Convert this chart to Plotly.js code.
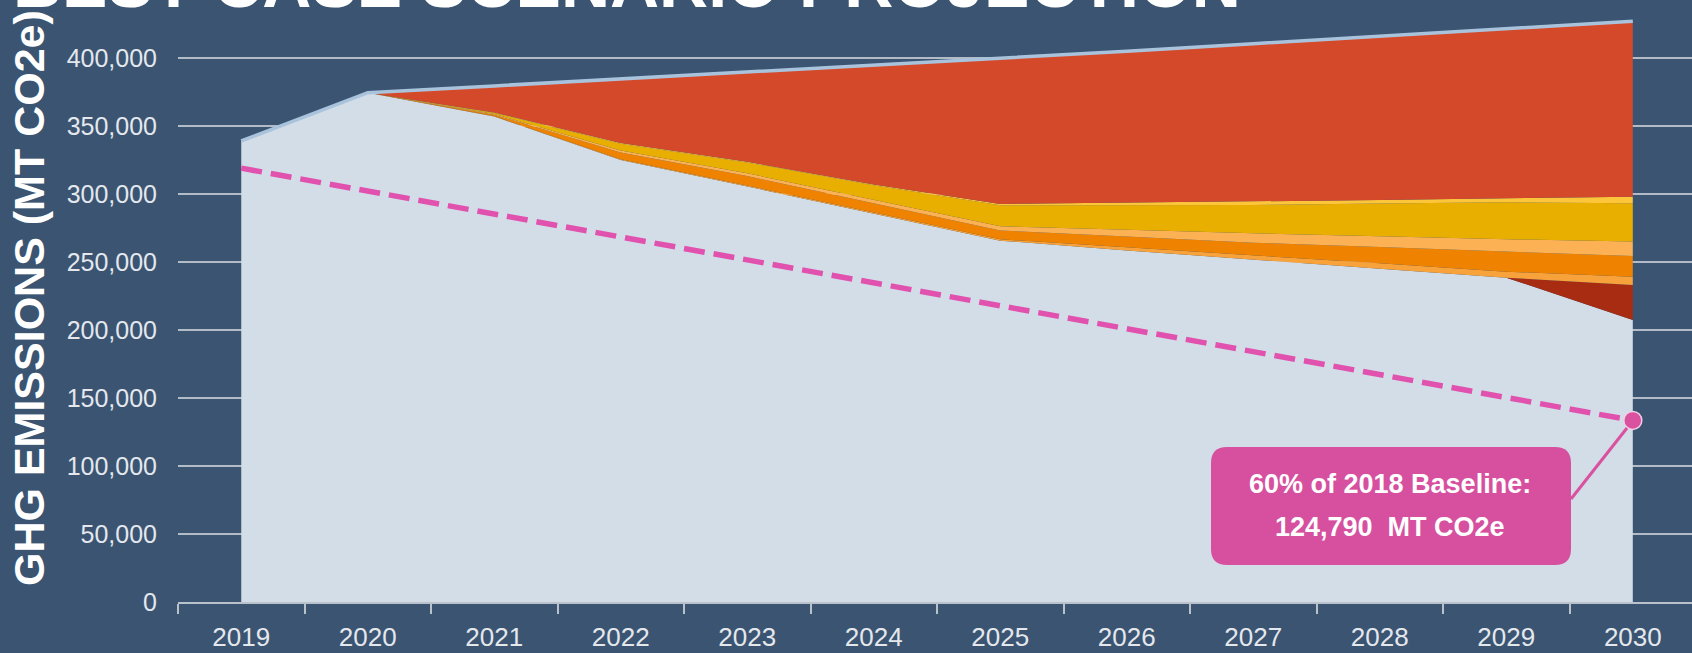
<!DOCTYPE html>
<html>
<head>
<meta charset="utf-8">
<script src="https://cdn.plot.ly/plotly-3.0.1.min.js"></script>
<style>html,body{margin:0;padding:0;background:#3a5472;}#chart{width:1692px;height:653px;}</style>
</head>
<body>
<div id="chart"></div>
<script>
// ---- data (MT CO2e) ----
const years = ['2019','2020','2021','2022','2023','2024','2025','2026','2027','2028','2029','2030'];
const baseline    = [339000, 374500, 357000, 325000, 305500, 285500, 265700, 258500, 251500, 245000, 238500, 207400];
const darkRed     = [0, 0, 0, 0, 0, 0, 0, 0, 0, 0, 0, 25600];
const stripe      = [0, 0, 300, 500, 700, 900, 1000, 2300, 3600, 4000, 4400, 6200];
const orange      = [0, 0, 1000, 5000, 7000, 7000, 6500, 8000, 9100, 12000, 14700, 15200];
const lightOrange = [0, 0, 500, 1500, 2000, 2500, 3000, 5000, 6900, 8000, 9100, 10600];
const gold        = [0, 0, 800, 5000, 8000, 10500, 15500, 18000, 20800, 24000, 27200, 28200];
const yellow      = [0, 0, 300, 500, 500, 500, 1000, 1800, 2400, 2600, 2900, 4800];
const businessAsUsual = [339000, 374500, 379500, 384500, 389500, 394500, 399500, 405000, 410500, 416000, 421500, 427000];
const targetYears = ['2019', '2030'];
const targetValues = [319000, 133500];
const yTicks = [0, 50000, 100000, 150000, 200000, 250000, 300000, 350000, 400000];
const titleText = 'BEST CASE SCENARIO PROJECTION';
const yTitleText = 'GHG EMISSIONS (MT CO2e)';
const calloutLine1 = '60% of 2018 Baseline:';
const calloutLine2 = '124,790\u00a0 MT CO2e';

// remaining wedge up to the business-as-usual line
const lowerLayers = [baseline, darkRed, stripe, orange, lightOrange, gold, yellow];
const redWedge = businessAsUsual.map((v, i) => v - lowerLayers.reduce((s, a) => s + a[i], 0));

// ---- geometry helpers (pixels -> paper) ----
const L = 178, R = 0, T = 0, B = 51, W = 1692 - L - R, H = 653 - T - B;
const px = x => (x - L) / W;
const py = y => 1 - (y - T) / H;
function roundRect(x0, y0, x1, y1, r) {
  const p = (x, y) => px(x).toFixed(5) + ',' + py(y).toFixed(5);
  return 'M' + p(x0 + r, y0) + ' L' + p(x1 - r, y0) + ' Q' + p(x1, y0) + ' ' + p(x1, y0 + r) +
         ' L' + p(x1, y1 - r) + ' Q' + p(x1, y1) + ' ' + p(x1 - r, y1) +
         ' L' + p(x0 + r, y1) + ' Q' + p(x0, y1) + ' ' + p(x0, y1 - r) +
         ' L' + p(x0, y0 + r) + ' Q' + p(x0, y0) + ' ' + p(x0 + r, y0) + ' Z';
}

function layer(vals, color) {
  return {x: years, y: vals, type: 'scatter', mode: 'lines', stackgroup: 'one',
          line: {width: 0, color: color}, fillcolor: color, hoverinfo: 'skip'};
}

const traces = [
  layer(baseline, '#d3dde8'),
  layer(darkRed, '#a72c12'),
  layer(stripe, '#f7a23a'),
  layer(orange, '#ef8300'),
  layer(lightOrange, '#fcb254'),
  layer(gold, '#e8ae00'),
  layer(yellow, '#fdc63a'),
  layer(redWedge, '#d4492a'),
  {x: years, y: businessAsUsual, type: 'scatter', mode: 'lines',
   line: {color: '#a9c3dc', width: 3.5}, hoverinfo: 'skip'},
  {x: targetYears, y: targetValues, type: 'scatter', mode: 'lines',
   line: {color: '#e052ae', width: 5.5, dash: '21px,9px'}, hoverinfo: 'skip'},
  {x: [targetYears[1]], y: [targetValues[1]], type: 'scatter', mode: 'markers',
   marker: {color: '#d9519f', size: 18, line: {color: '#f3cfe4', width: 1.5}}, hoverinfo: 'skip'}
];

const layout = {
  width: 1692, height: 653,
  paper_bgcolor: '#3a5472', plot_bgcolor: '#3a5472',
  margin: {l: L, r: R, t: T, b: B, pad: 0},
  showlegend: false,
  font: {family: 'Liberation Sans, Arial, sans-serif', color: '#e4e8ed'},
  xaxis: {type: 'category', range: [-0.5, 11.468], tickson: 'boundaries',
          ticks: 'outside', ticklen: 10, tickwidth: 2, tickcolor: '#b9c1ca',
          showline: true, linecolor: '#b9c1ca', linewidth: 2, showgrid: false, zeroline: false,
          ticklabelstandoff: 11,
          tickfont: {family: 'Liberation Sans, Arial, sans-serif', size: 26, color: '#e4e8ed'},
          automargin: false, fixedrange: true},
  yaxis: {range: [0, 442650], tickvals: yTicks, tickformat: ',d', showgrid: true,
          gridcolor: '#b3bcc6', gridwidth: 2, zeroline: false, showline: false, ticks: '',
          ticklabelstandoff: 20,
          tickfont: {family: 'Liberation Sans, Arial, sans-serif', size: 25, color: '#e4e8ed'},
          automargin: false, fixedrange: true},
  shapes: [
    {type: 'path', xref: 'paper', yref: 'paper', path: roundRect(1211, 447, 1571, 565, 16),
     fillcolor: '#d6509f', line: {width: 0}},
    {type: 'line', xref: 'paper', yref: 'paper', x0: px(1571), y0: py(499), x1: px(1627), y1: py(428),
     line: {color: '#d9519f', width: 3}}
  ],
  annotations: [
    {text: '<b>' + titleText + '</b>', xref: 'paper', yref: 'paper', x: px(11), y: py(23),
     xanchor: 'left', yanchor: 'bottom', showarrow: false,
     font: {family: 'Liberation Sans, Arial, sans-serif', size: 68, color: '#ffffff'}},
    {text: '<b>' + yTitleText + '</b>', xref: 'paper', yref: 'paper', x: px(29), y: py(298),
     xanchor: 'center', yanchor: 'middle', textangle: -90, showarrow: false,
     font: {family: 'Liberation Sans, Arial, sans-serif', size: 43, color: '#ffffff'}},
    {text: '<b>' + calloutLine1 + '</b>', xref: 'paper', yref: 'paper', x: px(1390), y: py(484),
     xanchor: 'center', yanchor: 'middle', showarrow: false,
     font: {family: 'Liberation Sans, Arial, sans-serif', size: 27, color: '#ffffff'}},
    {text: '<b>' + calloutLine2 + '</b>', xref: 'paper', yref: 'paper', x: px(1390), y: py(527),
     xanchor: 'center', yanchor: 'middle', showarrow: false,
     font: {family: 'Liberation Sans, Arial, sans-serif', size: 27, color: '#ffffff'}}
  ]
};

Plotly.newPlot('chart', traces, layout, {staticPlot: true, displayModeBar: false});
</script>
</body>
</html>
